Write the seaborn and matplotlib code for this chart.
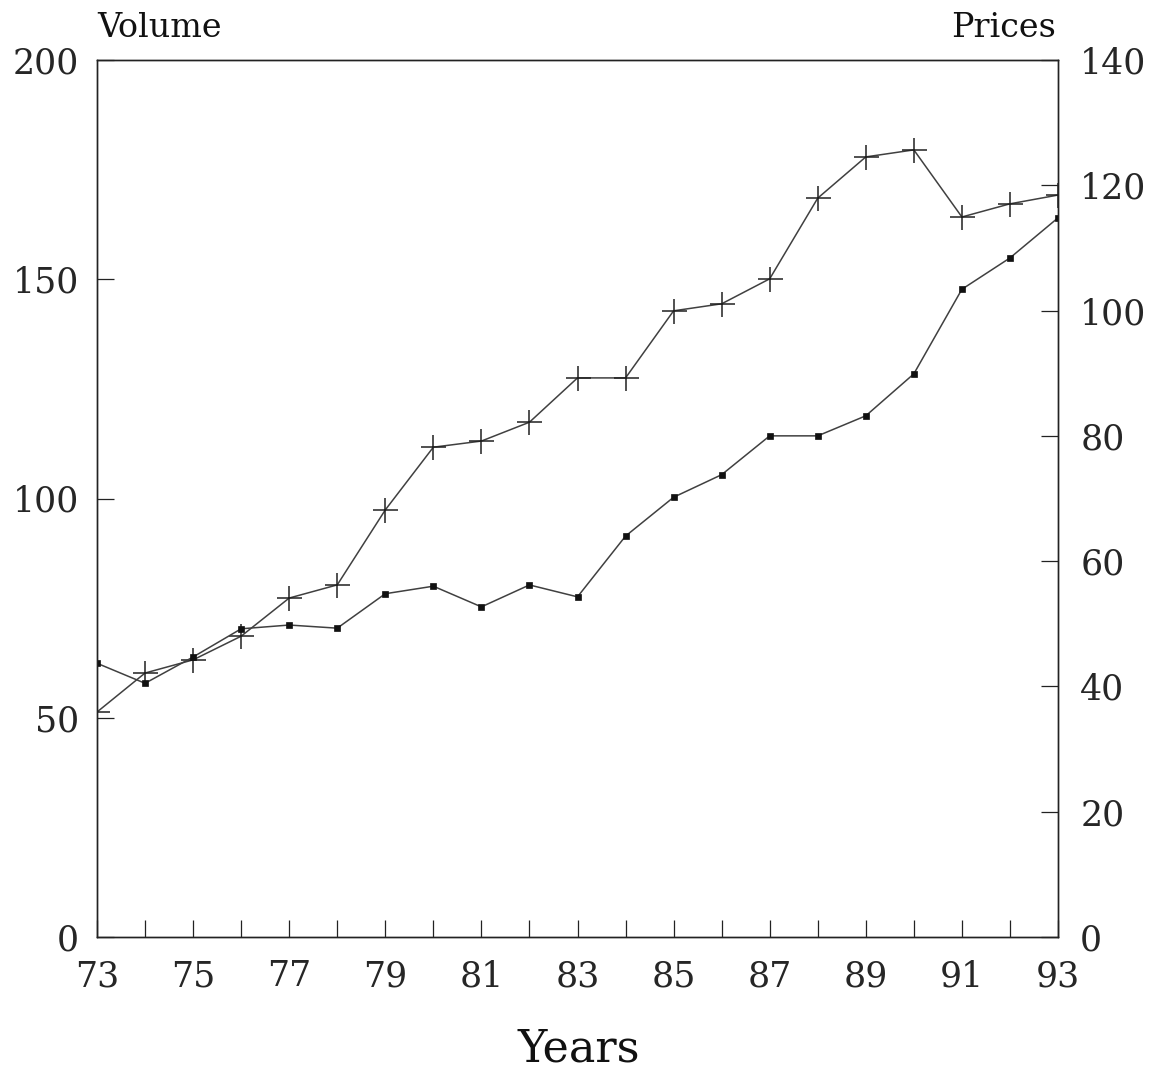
import matplotlib
matplotlib.use("Agg")
import matplotlib.pyplot as plt
import seaborn as sns
import pandas as pd

# ---- data ----
years = list(range(73, 94))
volume = [51.3, 60.2, 63.2, 68.6, 77.3, 80.3, 97.4, 111.7, 113.1, 117.4,
          127.5, 127.5, 142.8, 144.4, 150.1, 168.5, 177.9, 179.5, 164.2,
          167.2, 169.2]
prices = [43.7, 40.5, 44.7, 49.2, 49.8, 49.3, 54.8, 56.0, 52.7, 56.2,
          54.3, 64.0, 70.2, 73.8, 80.0, 80.0, 83.2, 89.9, 103.4, 108.4,
          114.8]
x_labelled = [73, 75, 77, 79, 81, 83, 85, 87, 89, 91, 93]
volume_ticks = [0, 50, 100, 150, 200]
price_ticks = [0, 20, 40, 60, 80, 100, 120, 140]

sns.set_style("white")
plt.rcParams['font.family'] = ['DejaVu Serif']

W, H = 1151, 1074
fig = plt.figure(figsize=(W / 100, H / 100), dpi=100)
ax = fig.add_axes([97 / W, 1 - 937 / H, (1058 - 97) / W, (937 - 60) / H])
ax2 = ax.twinx()

df = pd.DataFrame({'Year': years, 'Volume': volume, 'Prices': prices})

sns.lineplot(data=df, x='Year', y='Volume', ax=ax, color='#404040',
             linewidth=1.1, marker='+', markersize=18, markeredgewidth=1.1,
             markeredgecolor='#202020')
sns.lineplot(data=df, x='Year', y='Prices', ax=ax2, color='#404040',
             linewidth=1.1, marker='s', markersize=5, markeredgewidth=0.5,
             markeredgecolor='#111111', markerfacecolor='#111111')

ax.set_xlim(73, 93)
ax.set_ylim(0, 200)
ax2.set_ylim(0, 140)

ax.set_xticks(years)
ax.set_xticklabels([str(y) if y in x_labelled else '' for y in years])
ax.set_yticks(volume_ticks)
ax.set_yticklabels([str(v) for v in volume_ticks])
ax2.set_yticks(price_ticks)
ax2.set_yticklabels([str(v) for v in price_ticks])

ax.tick_params(axis='x', direction='in', length=12, width=0.9, color='#222',
               labelsize=25, pad=16, bottom=True, top=False)
ax.tick_params(axis='y', direction='in', length=12, width=0.9, color='#222',
               labelsize=25, pad=13, left=True, right=False)
ax2.tick_params(axis='y', direction='in', length=12, width=0.9, color='#222',
                labelsize=25, pad=16, right=True, left=False)

ax.set_xlabel('')
ax.set_ylabel('')
ax2.set_ylabel('')

for a in (ax, ax2):
    for s in a.spines.values():
        s.set_visible(True)
        s.set_color('#222222')
        s.set_linewidth(1.0)

fig.text(97 / W, 1 - 37 / H, 'Volume', ha='left', va='baseline',
         fontsize=24, color='#111')
fig.text(1056 / W, 1 - 37 / H, 'Prices', ha='right', va='baseline',
         fontsize=24, color='#111')
fig.text(579 / W, 1 - 1062 / H, 'Years', ha='center', va='baseline',
         fontsize=32, color='#111')

fig.savefig('out.png', dpi=100, facecolor='white')
